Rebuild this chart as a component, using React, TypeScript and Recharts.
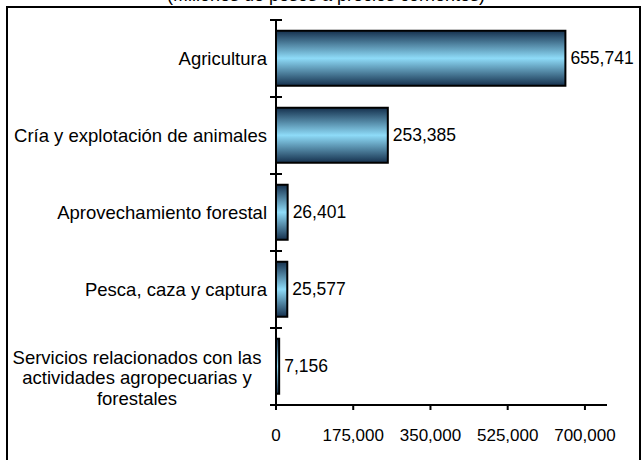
import React from 'react';
import {Bar, BarChart, LabelList, XAxis, YAxis} from "recharts";

const categories = [
	'Agricultura',
	'Cría y explotación de animales',
	'Aprovechamiento forestal',
	'Pesca, caza y captura',
	'Servicios relacionados con las actividades agropecuarias y forestales',
];
const values = [655741, 253385, 26401, 25577, 7156];
const xTicks = [0, 175000, 350000, 525000, 700000];
const labelLines: Record<string, string[]> = {
	'Servicios relacionados con las actividades agropecuarias y forestales': [
		'Servicios relacionados con las',
		'actividades agropecuarias y',
		'forestales',
	],
};

const data = categories.map((name, i) => ({name, value: values[i]}));

const FONT = '"Liberation Sans", Arial, sans-serif';
const FS = 18;
const fmt = (v: number) => v.toLocaleString('en-US');

const CategoryTick = (props: any) => {
	const {x, y, payload, index} = props;
	const band = 77;
	const axisX = x + 8;
	const lines = labelLines[payload.value];
	return (
		<g>
			<line x1={axisX - 6} x2={axisX + 6} y1={y - band / 2} y2={y - band / 2} stroke="#000" strokeWidth={2}/>
			{index === categories.length - 1 && (
				<line x1={axisX - 6} x2={axisX + 6} y1={y + band / 2} y2={y + band / 2} stroke="#000" strokeWidth={2}/>
			)}
			{lines ? (
				<text x={137} y={y - 9.5} textAnchor="middle" fontSize={FS + 0.5} fontFamily={FONT} fill="#000">
					{lines.map((l, i) => (
						<tspan key={i} x={137} dy={i === 0 ? 0 : 20.5} dominantBaseline="central">{l}</tspan>
					))}
				</text>
			) : (
				<text x={axisX - 9} y={y} textAnchor="end" dominantBaseline="central" fontSize={FS + 0.5} fontFamily={FONT} fill="#000">
					{payload.value}
				</text>
			)}
		</g>
	);
};

const App = () => {
	return (
		<div style={{position: 'fixed', left: 0, top: 0, width: 642, height: 460, overflow: 'hidden', background: '#fff'}}>
			<div style={{
				position: 'absolute', top: -15, left: 0, width: 652, textAlign: 'center',
				fontFamily: FONT, fontSize: FS, color: '#000', lineHeight: '20px'
			}}>
				(Millones de pesos a precios corrientes)
			</div>
			<div style={{
				position: 'absolute', left: 6, top: 6, width: 635, height: 470,
				border: '2px solid #000', boxSizing: 'border-box'
			}}/>
			<div style={{position: 'absolute', left: 0, top: 0}}>
				<BarChart width={642} height={460} data={data} layout="vertical"
						  margin={{left: 0, right: 35, top: 20, bottom: 5}} barCategoryGap="14%">
					<defs>
						<linearGradient id="barGrad" x1="0" y1="0" x2="0" y2="1">
							<stop offset="0%" stopColor="#15304d"/>
							<stop offset="50%" stopColor="#8edbf8"/>
							<stop offset="100%" stopColor="#15304d"/>
						</linearGradient>
					</defs>
					<XAxis type="number" domain={[0, 750000]} ticks={xTicks} tickFormatter={fmt}
						   height={50}
						   axisLine={{stroke: '#000', strokeWidth: 2}} tickLine={{stroke: '#000', strokeWidth: 2}}
						   tickSize={5} tickMargin={19}
						   tick={{fill: '#000', fontSize: FS - 1, fontFamily: FONT}}/>
					<YAxis type="category" dataKey="name" width={276} interval={0}
						   axisLine={{stroke: '#000', strokeWidth: 2}} tickLine={false}
						   tick={<CategoryTick/>}/>
					<Bar dataKey="value" fill="url(#barGrad)" stroke="#000" strokeWidth={2} isAnimationActive={false}>
						<LabelList dataKey="value" position="right" offset={5} formatter={(v: any) => fmt(Number(v))}
								   fill="#000" fontSize={FS - 0.5} fontFamily={FONT}/>
					</Bar>
				</BarChart>
			</div>
		</div>
	);
};

export default App;
